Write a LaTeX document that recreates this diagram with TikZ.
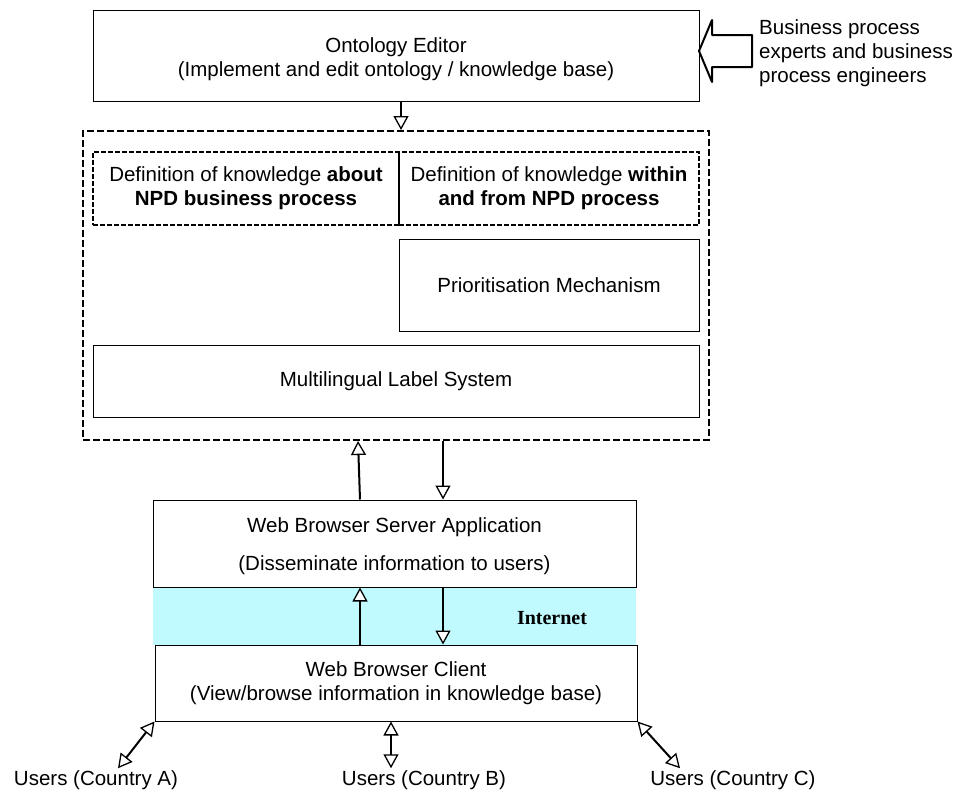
\documentclass[tikz,border=0pt]{standalone}
\usepackage{fontspec}
\setmainfont{Liberation Sans}
\newfontfamily\serifface{Liberation Serif}
\usetikzlibrary{arrows.meta}
\definecolor{netcyan}{RGB}{192,250,255}
\tikzstyle{block} = [draw, rectangle, line width=1pt, inner sep=0pt, align=center]
\tikzstyle{dblock} = [draw, rectangle, line width=1.6pt, dash pattern=on 5pt off 2pt, inner sep=0pt, align=center]
\tikzstyle{frame} = [draw, rectangle, line width=2pt, dash pattern=on 7pt off 3pt, inner sep=0pt]
\tikzstyle{txt} = [inner sep=2pt, align=left]
\tikzstyle{flow} = [->, line width=2pt]
\tikzstyle{twoway} = [<->, line width=2pt]

\begin{document}
\begin{tikzpicture}[auto, x=1pt, y=-1pt, font=\fontsize{20.5}{24}\selectfont,
		>={Triangle[length=14pt, width=15pt, line width=1.3pt, fill=white]}]
		\useasboundingbox (0,0) rectangle (958,795);
		\node [block, minimum width=606pt, minimum height=91pt] (editor) at (396,55.5) {\rule{0pt}{22pt}Ontology Editor\\(Implement and edit ontology / knowledge base)};
		\node [txt, anchor=west] (experts) at (757,53) {Business process\\experts and business\\process engineers};
		\draw [line width=2pt, line join=round] (699,51) -- (712,20) -- (712,35) -- (752,35) -- (752,67) -- (712,67) -- (712,82) -- cycle;

		\node [frame, minimum width=626pt, minimum height=309pt] (core) at (396,285.5) {};
		\node [dblock, minimum width=306pt, minimum height=73pt] (about) at (246,188.5) {Definition of knowledge \textbf{about}\\\textbf{NPD business process}};
		\node [dblock, minimum width=300pt, minimum height=73pt] (within) at (549,188.5) {Definition of knowledge \textbf{within}\\\textbf{and from NPD process}};
		\draw [line width=1pt] (about.north east) -- (about.south east);
		\node [block, minimum width=300pt, minimum height=92pt] (prior) at (549,285) {Prioritisation Mechanism};
		\node [block, minimum width=606pt, minimum height=72pt] (multi) at (396,381) {Multilingual Label System};

		\node [fill=netcyan, inner sep=0pt, minimum width=483pt, minimum height=58pt] (band) at (394.5,616) {};
		\node [font=\serifface\bfseries\fontsize{20}{22}\selectfont] (inet) at (552,618) {Internet};
		\node [block, minimum width=483pt, minimum height=87pt] (server) at (394.5,543.5) {\rule{0pt}{20pt}Web Browser Server Application\\[14pt](Disseminate information to users)};
		\node [block, minimum width=482pt, minimum height=76pt] (client) at (396,683) {Web Browser Client\\(View/browse information in knowledge base)};

		\node [txt] (usA) at (96,780) {Users (Country A)};
		\node [txt] (usB) at (424,780) {Users (Country B)};
		\node [txt] (usC) at (733,780) {Users (Country C)};

		\draw [flow] ([xshift=5]editor.south) -- ([xshift=5]core.north);
		\draw [flow] ([xshift=-34.5]server.north) -- ([xshift=-38]core.south);
		\draw [flow] ([xshift=47]core.south) -- ([xshift=48.5]server.north);
		\draw [flow] ([xshift=-36]client.north) -- ([xshift=-34.5]server.south);
		\draw [flow] ([xshift=48.5]server.south) -- ([xshift=47]client.north);

		\draw [twoway] (client.south west) -- ([xshift=22]usA.north);
		\draw [twoway] ([xshift=-5]client.south) -- ([xshift=-33]usB.north);
		\draw [twoway] (client.south east) -- ([xshift=-53]usC.north);
	\end{tikzpicture}
\end{document}
